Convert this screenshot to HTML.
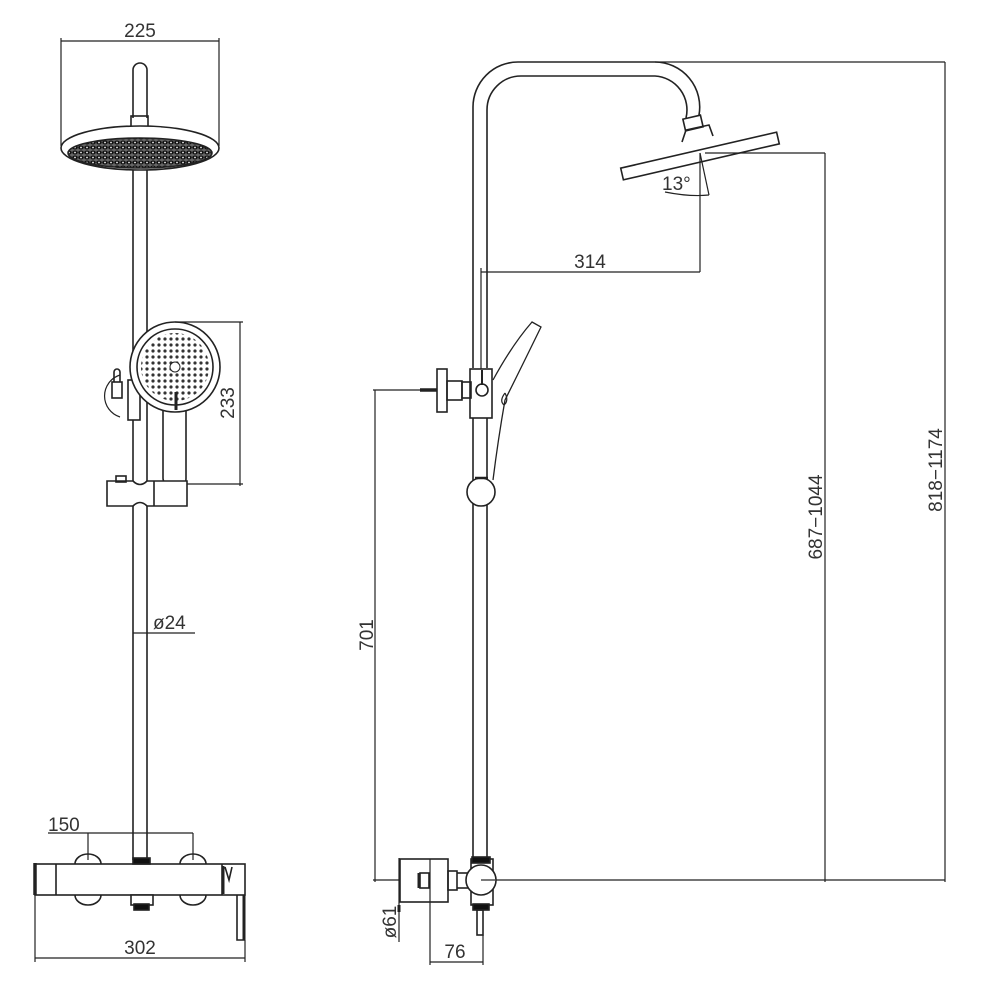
<!DOCTYPE html>
<html><head><meta charset="utf-8"><style>
html,body{margin:0;padding:0;background:#fff;}
svg{display:block;}
text{font-family:"Liberation Sans",sans-serif;font-size:19px;fill:#333;}
</style></head><body>
<svg width="1000" height="1000" viewBox="0 0 1000 1000" xmlns="http://www.w3.org/2000/svg">
<defs>
<pattern id="dots" width="6" height="5" patternUnits="userSpaceOnUse">
<rect width="6" height="5" fill="#666"/>
<ellipse cx="3" cy="2.5" rx="2.8" ry="2" fill="#111"/>
<circle cx="3" cy="2.5" r="0.9" fill="#eee"/>
</pattern>
<pattern id="hdots" width="6" height="6" patternUnits="userSpaceOnUse">
<circle cx="3" cy="3" r="1.6" fill="#333"/>
</pattern>
</defs>
<g fill="none" stroke="#222" stroke-width="1.6">
<!-- LEFT VIEW -->
<line x1="61" y1="41" x2="219" y2="41" stroke-width="1.2"/>
<line x1="61" y1="38" x2="61" y2="146" stroke-width="1.2"/>
<line x1="219" y1="38" x2="219" y2="146" stroke-width="1.2"/>
<path d="M133 118 V70 A7 7 0 0 1 147 70 V118"/>
<rect x="131" y="116" width="17" height="11"/>
<ellipse cx="140" cy="148" rx="79" ry="22" fill="#fff"/>
<ellipse cx="140" cy="153" rx="72" ry="15" fill="url(#dots)"/>
<line x1="133" y1="170" x2="133" y2="860"/>
<line x1="147" y1="170" x2="147" y2="860"/>
<path d="M120 375 a22 22 0 0 0 0 42" stroke-width="1.2"/>
<rect x="112" y="382" width="10" height="16"/>
<path d="M114 382 V372 a3 3 0 0 1 6 0 V382"/>
<rect x="128" y="380" width="12" height="40" fill="#fff"/>
<path d="M163 408 V478 Q163 484 170 484 H184 Q186 484 186 478 V408" fill="#fff"/>
<circle cx="175" cy="367" r="45" fill="#fff"/>
<circle cx="175" cy="367" r="38"/>
<g fill="#333" stroke="none">
<circle cx="175" cy="367" r="34" fill="url(#hdots)"/>
</g>
<circle cx="175" cy="367" r="5" fill="#fff" stroke-width="1"/>
<line x1="176" y1="392" x2="176" y2="410" stroke-width="3"/>
<line x1="175" y1="322" x2="243" y2="322" stroke-width="1.2"/>
<line x1="185" y1="484" x2="243" y2="484" stroke-width="1.2"/>
<line x1="240" y1="322" x2="240" y2="486" stroke-width="1.2"/>
<path d="M107 481 H133 Q140 488 147 481 H187 V506 H147 Q140 499 133 506 H107 Z" fill="#fff"/>
<line x1="154" y1="481" x2="154" y2="506"/>
<rect x="116" y="476" width="10" height="6"/>
<line x1="133" y1="633" x2="195" y2="633" stroke-width="1.2"/>
<line x1="48" y1="833" x2="193" y2="833" stroke-width="1.2"/>
<line x1="88" y1="833" x2="88" y2="860" stroke-width="1.2"/>
<line x1="193" y1="833" x2="193" y2="860" stroke-width="1.2"/>
<path d="M75 864 a13 10 0 0 1 26 0"/>
<path d="M180 864 a13 10 0 0 1 26 0"/>
<path d="M75 895 a13 10 0 0 0 26 0"/>
<path d="M180 895 a13 10 0 0 0 26 0"/>
<rect x="35" y="864" width="210" height="31" fill="none"/>
<line x1="56" y1="864" x2="56" y2="895"/>
<line x1="222" y1="864" x2="222" y2="895"/>
<line x1="35" y1="863" x2="35" y2="895" stroke-width="3.5"/>
<line x1="223" y1="866" x2="223" y2="894" stroke-width="3"/>
<path d="M225 867 L229 880 L232 867"/>
<rect x="131" y="895" width="22" height="10" fill="#fff"/>
<rect x="133" y="858" width="17" height="6" fill="#111"/>
<rect x="134" y="904" width="15" height="6" fill="#111"/>
<path d="M237 895 V940 H244 V895"/>
<line x1="244" y1="895" x2="244" y2="940" stroke-width="3"/>
<line x1="35" y1="958" x2="245" y2="958" stroke-width="1.2"/>
<line x1="35" y1="895" x2="35" y2="962" stroke-width="1.2"/>
<line x1="245" y1="940" x2="245" y2="962" stroke-width="1.2"/>

<!-- RIGHT VIEW -->
<path d="M473 368 V107 A45 45 0 0 1 518 62 H655 A45 45 0 0 1 699 115"/>
<path d="M487 368 V110 A34 34 0 0 1 521 76 H655 A34 34 0 0 1 686 118"/>
<rect x="684" y="117" width="18" height="12" transform="rotate(-13 693 123)"/>
<path d="M682 142 L686 130 L709 125 L713 136"/>
<rect x="620" y="150" width="160" height="12" transform="rotate(-13 700 156)" fill="#fff"/>
<line x1="700" y1="153" x2="700" y2="272" stroke-width="1.2"/>
<line x1="700" y1="153" x2="709" y2="195" stroke-width="1.2"/>
<path d="M665 192 Q690 197 709 195" stroke-width="1.2"/>
<line x1="481" y1="272" x2="700" y2="272" stroke-width="1.2"/>
<line x1="481" y1="268" x2="481" y2="372" stroke-width="1.2"/>
<line x1="705" y1="153" x2="825" y2="153" stroke-width="1.2"/>
<line x1="655" y1="62" x2="945" y2="62" stroke-width="1.2"/>
<line x1="825" y1="153" x2="825" y2="882" stroke-width="1.2"/>
<line x1="945" y1="62" x2="945" y2="882" stroke-width="1.2"/>
<line x1="495" y1="880" x2="945" y2="880" stroke-width="1.2"/>
<line x1="473" y1="418" x2="473" y2="858"/>
<line x1="487" y1="418" x2="487" y2="858"/>
<path d="M493 380 Q512 345 532 322 L541 327 Q520 370 505 400 Q498 440 493 480" stroke-width="1.3"/>
<path d="M505 393 q-6 8 -1 12 q5 -4 1 -12" stroke-width="1.2"/>
<rect x="470" y="369" width="22" height="49" fill="#fff"/>
<circle cx="482" cy="390" r="6"/>
<line x1="482" y1="370" x2="482" y2="385" stroke-width="2"/>
<rect x="462" y="382" width="9" height="16"/>
<rect x="447" y="381" width="15" height="19"/>
<rect x="437" y="369" width="10" height="43"/>
<line x1="420" y1="390" x2="437" y2="390" stroke-width="3.5"/>
<line x1="373" y1="390" x2="420" y2="390" stroke-width="1.2"/>
<line x1="375" y1="390" x2="375" y2="882" stroke-width="1.2"/>
<line x1="373" y1="880" x2="400" y2="880" stroke-width="1.2"/>
<circle cx="481" cy="492" r="14" fill="#fff"/>
<line x1="475" y1="478" x2="488" y2="478" stroke-width="2.5"/>
<rect x="471" y="859" width="22" height="46" fill="#fff"/>
<rect x="472" y="857" width="18" height="6" fill="#111"/>
<rect x="473" y="904" width="16" height="6" fill="#111"/>
<rect x="477" y="910" width="6" height="25"/>
<circle cx="481" cy="880" r="15" fill="#fff"/>
<line x1="481" y1="880" x2="495" y2="880" stroke-width="1.2"/>
<rect x="448" y="871" width="9" height="19"/>
<line x1="457" y1="873" x2="468" y2="873"/><line x1="457" y1="888" x2="468" y2="888"/>
<rect x="400" y="859" width="48" height="43"/>
<rect x="420" y="873" width="9" height="15"/>
<line x1="419" y1="873" x2="419" y2="888" stroke-width="3"/>
<line x1="399" y1="858" x2="399" y2="942" stroke-width="1.2"/>
<line x1="399" y1="905" x2="399" y2="912" stroke-width="3"/>
<line x1="430" y1="859" x2="430" y2="965" stroke-width="1.2"/>
<line x1="483" y1="935" x2="483" y2="965" stroke-width="1.2"/>
<line x1="430" y1="962" x2="483" y2="962" stroke-width="1.2"/>
</g>
<g>
<text x="140" y="37" text-anchor="middle">225</text>
<text x="229" y="403" text-anchor="middle" transform="rotate(-90 229 403)" dominant-baseline="middle">233</text>
<text x="153" y="629">ø24</text>
<text x="48" y="831">150</text>
<text x="140" y="954" text-anchor="middle">302</text>
<text x="590" y="268" text-anchor="middle">314</text>
<text x="662" y="190">13°</text>
<text x="368" y="635" text-anchor="middle" transform="rotate(-90 368 635)" dominant-baseline="middle">701</text>
<text x="817" y="517" text-anchor="middle" transform="rotate(-90 817 517)" dominant-baseline="middle">687−1044</text>
<text x="937" y="470" text-anchor="middle" transform="rotate(-90 937 470)" dominant-baseline="middle">818−1174</text>
<text x="391" y="922" text-anchor="middle" transform="rotate(-90 391 922)" dominant-baseline="middle">ø61</text>
<text x="455" y="958" text-anchor="middle">76</text>
</g>
</svg>
</body></html>
